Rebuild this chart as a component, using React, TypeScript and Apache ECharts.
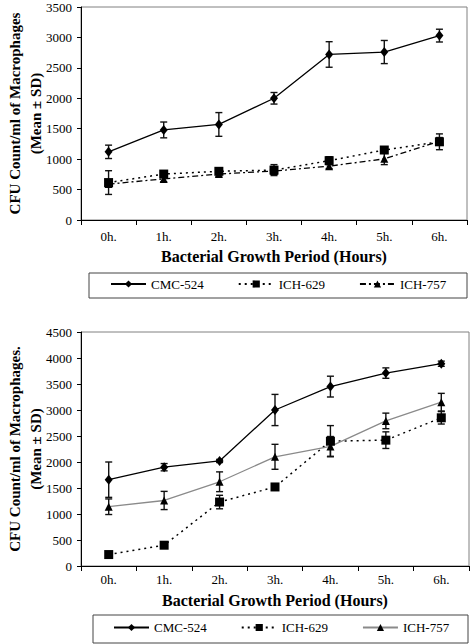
import React, { useEffect, useRef } from "react";
import * as echarts from "echarts";

const categories = ["0h.", "1h.", "2h.", "3h.", "4h.", "5h.", "6h."];
const seriesNames = ["CMC-524", "ICH-629", "ICH-757"];

// Top chart
const cmcTop = [1120, 1480, 1570, 2000, 2720, 2760, 3030];
const cmcTopSd = [110, 130, 195, 95, 210, 190, 105];
const ich629Top = [615, 755, 800, 820, 975, 1150, 1285];
const ich629TopSd = [195, 55, 50, 90, 65, 40, 130];
const ich757Top = [590, 675, 755, 805, 885, 1005, 1295];
const ich757TopSd = [40, 45, 40, 40, 40, 95, 60];
const yTicksTop = { min: 0, max: 3500, interval: 500 };

// Bottom chart
const cmcBot = [1660, 1900, 2020, 3000, 3450, 3710, 3890];
const cmcBotSd = [340, 70, 30, 300, 200, 100, 50];
const ich629Bot = [220, 400, 1230, 1520, 2400, 2420, 2850];
const ich629BotSd = [20, 20, 130, 20, 300, 160, 120];
const ich757Bot = [1140, 1260, 1620, 2100, 2300, 2790, 3150];
const ich757BotSd = [150, 175, 190, 240, 190, 150, 170];
const yTicksBot = { min: 0, max: 4500, interval: 500 };

const FONT = "'Liberation Serif', 'Times New Roman', serif";

function errorSeries(vals: number[], sds: number[]) {
  return {
    type: "custom",
    z: 1,
    silent: true,
    data: vals.map((v, i) => [i, v - sds[i], v + sds[i]]),
    encode: { x: 0, y: [1, 2] },
    renderItem: (params: any, api: any) => {
      const lo = api.coord([api.value(0), api.value(1)]);
      const hi = api.coord([api.value(0), api.value(2)]);
      const w = 3.5;
      const st = { stroke: "#111", lineWidth: 1.4 };
      return {
        type: "group",
        children: [
          { type: "line", shape: { x1: lo[0], y1: lo[1], x2: hi[0], y2: hi[1] }, style: st },
          { type: "line", shape: { x1: lo[0] - w, y1: lo[1], x2: lo[0] + w, y2: lo[1] }, style: st },
          { type: "line", shape: { x1: hi[0] - w, y1: hi[1], x2: hi[0] + w, y2: hi[1] }, style: st },
        ],
      };
    },
  };
}

type Cfg = {
  gridTop: number;
  gridHeight: number;
  gridWidth: number;
  yTicks: { min: number; max: number; interval: number };
  cmc: number[];
  cmcSd: number[];
  i629: number[];
  i629Sd: number[];
  i757: number[];
  i757Sd: number[];
  i757Color: string;
  i757Dash: any;
  labelMargin: number;
  nameGap: number;
  yTitle1: string;
  legendBox: { x: number; y: number; w: number; h: number };
  legendLeft: number;
};

function buildOption(c: Cfg) {
  const left = 81;
  const midY = c.gridTop + c.gridHeight / 2;
  return {
    animation: false,
    backgroundColor: "#fff",
    grid: {
      left,
      top: c.gridTop,
      width: c.gridWidth,
      height: c.gridHeight,
      show: true,
      borderColor: "#808080",
      borderWidth: 1,
      backgroundColor: "#fff",
    },
    xAxis: {
      type: "category",
      data: categories,
      boundaryGap: true,
      axisLine: { lineStyle: { color: "#000", width: 1 } },
      axisTick: { show: true, length: 5, lineStyle: { color: "#000" } },
      axisLabel: { color: "#000", fontFamily: FONT, fontSize: 13, margin: c.labelMargin },
      splitLine: { show: false },
      name: "Bacterial Growth Period (Hours)",
      nameLocation: "middle",
      nameGap: c.nameGap,
      nameTextStyle: { color: "#000", fontFamily: FONT, fontSize: 16, fontWeight: "bold" },
    },
    yAxis: {
      type: "value",
      min: c.yTicks.min,
      max: c.yTicks.max,
      interval: c.yTicks.interval,
      axisLine: { show: true, lineStyle: { color: "#000", width: 1 } },
      axisTick: { show: true, length: 4, lineStyle: { color: "#000" } },
      axisLabel: {
        color: "#000",
        fontFamily: FONT,
        fontSize: 13,
        margin: 9,
        formatter: (v: number) => String(v),
      },
      splitLine: { show: false },
    },
    legend: {
      data: seriesNames,
      left: c.legendLeft,
      top: c.legendBox.y + c.legendBox.h / 2 - 8,
      orient: "horizontal",
      padding: 0,
      itemWidth: 35,
      itemHeight: 9,
      itemGap: 34,
      textStyle: { color: "#000", fontFamily: FONT, fontSize: 13 },
      selectedMode: false,
    },
    graphic: [
      {
        type: "rect",
        shape: { x: c.legendBox.x, y: c.legendBox.y, width: c.legendBox.w, height: c.legendBox.h },
        style: { fill: "none", stroke: "#444", lineWidth: 1 },
        z: -1,
      },
      {
        type: "text",
        x: 15,
        y: midY,
        rotation: Math.PI / 2,
        style: {
          text: c.yTitle1,
          fill: "#000",
          font: `bold 15px ${FONT}`,
          textAlign: "center",
          textVerticalAlign: "middle",
        },
      },
      {
        type: "text",
        x: 36,
        y: midY,
        rotation: Math.PI / 2,
        style: {
          text: "(Mean ± SD)",
          fill: "#000",
          font: `bold 15px ${FONT}`,
          textAlign: "center",
          textVerticalAlign: "middle",
        },
      },
    ],
    series: [
      errorSeries(c.cmc, c.cmcSd),
      errorSeries(c.i629, c.i629Sd),
      errorSeries(c.i757, c.i757Sd),
      {
        name: "CMC-524",
        type: "line",
        z: 3,
        data: c.cmc,
        symbol: "diamond",
        symbolSize: [8, 10],
        lineStyle: { color: "#000", width: 1.3, type: "solid" },
        itemStyle: { color: "#000" },
      },
      {
        name: "ICH-629",
        type: "line",
        z: 3,
        data: c.i629,
        symbol: "rect",
        symbolSize: 9,
        lineStyle: { color: "#000", width: 1.5, type: [2, 4] },
        itemStyle: { color: "#000" },
      },
      {
        name: "ICH-757",
        type: "line",
        z: 3,
        data: c.i757,
        symbol: "triangle",
        symbolSize: 8,
        lineStyle: { color: c.i757Color, width: 1.3, type: c.i757Dash },
        itemStyle: { color: "#000" },
      },
    ],
  };
}

function Chart({ cfg, style }: { cfg: Cfg; style: React.CSSProperties }) {
  const ref = useRef<HTMLDivElement>(null);
  useEffect(() => {
    if (!ref.current) return;
    const chart = echarts.init(ref.current, undefined, { renderer: "svg" });
    chart.setOption(buildOption(cfg) as any);
    return () => chart.dispose();
  }, [cfg]);
  return <div ref={ref} style={style} />;
}

const topCfg: Cfg = {
  gridTop: 7,
  gridHeight: 213,
  gridWidth: 386,
  yTicks: yTicksTop,
  cmc: cmcTop,
  cmcSd: cmcTopSd,
  i629: ich629Top,
  i629Sd: ich629TopSd,
  i757: ich757Top,
  i757Sd: ich757TopSd,
  i757Color: "#000",
  i757Dash: [6, 3, 2, 3],
  labelMargin: 10,
  nameGap: 28,
  yTitle1: "CFU Count/ml of Macrophages",
  legendBox: { x: 89, y: 273, w: 378, h: 25 },
  legendLeft: 110,
};

const botCfg: Cfg = {
  gridTop: 27,
  gridHeight: 234,
  gridWidth: 388,
  yTicks: yTicksBot,
  cmc: cmcBot,
  cmcSd: cmcBotSd,
  i629: ich629Bot,
  i629Sd: ich629BotSd,
  i757: ich757Bot,
  i757Sd: ich757BotSd,
  i757Color: "#8a8a8a",
  i757Dash: "solid",
  labelMargin: 7,
  nameGap: 26,
  yTitle1: "CFU Count/ml of Macrophages.",
  legendBox: { x: 93, y: 310, w: 375, h: 28 },
  legendLeft: 113,
};

export default function App() {
  return (
    <div style={{ position: "absolute", left: 0, top: 0, width: 470, height: 644, background: "#fff" }}>
      <Chart cfg={topCfg} style={{ position: "absolute", left: 0, top: 0, width: 470, height: 305 }} />
      <Chart cfg={botCfg} style={{ position: "absolute", left: 0, top: 305, width: 470, height: 339 }} />
    </div>
  );
}
